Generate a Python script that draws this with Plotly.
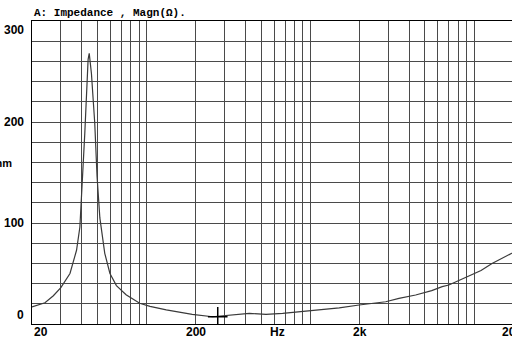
import math
import plotly.graph_objects as go

# ---- data ----
freq_hz = [20, 22, 24, 27, 30, 34.1, 37.4, 39.2, 40.1, 42.0, 44.0, 44.7, 46.1, 48.3, 49.9,
           51.9, 55.6, 59.8, 65.5, 75, 90.8, 105, 132, 190, 253, 300, 350, 424, 480, 536,
           677, 850, 1081, 1500, 1983, 2883, 3473, 4389, 5500, 6374, 7001, 8845, 11000,
           12840, 16620, 20000]
impedance_ohm = [17, 19, 21, 28, 36, 50, 73, 96, 123, 189, 262, 268, 248, 199, 146,
                 105, 70, 50, 38, 29, 20.5, 17.5, 13.9, 9.6, 7.2, 8.5, 9.5, 10.6, 10, 9.6,
                 10.6, 12, 13.9, 16, 18.8, 22, 25.4, 28.7, 33, 37, 38.6, 45.8, 53,
                 60, 69.3, 76]

cursor_freq = [272]
cursor_ohm = [7.2]

grid_freqs = [20, 30, 40, 50, 60, 70, 80, 90,
              100, 200, 300, 400, 500, 600, 700, 800, 900,
              1000, 2000, 3000, 4000, 5000, 6000, 7000, 8000, 9000,
              10000, 20000]
y_grid = list(range(0, 301, 20))

x_tick_vals = [20, 200, 2000, 20000]
x_tick_text = ["20", "200", "2k", "20k"]
x_tick_anchor = ["left", "center", "center", "right"]
y_tick_vals = [0, 100, 200, 300]
y_tick_text = ["0", "100", "200", "300"]

X_MIN, X_MAX_VISIBLE = 20, 17000
Y_MIN, Y_MAX = 0, 300

xr = [math.log10(X_MIN), math.log10(X_MAX_VISIBLE)]


def xpaper(f):
    return (math.log10(f) - xr[0]) / (xr[1] - xr[0])


GRID = "#4a4a4a"
LABEL_FONT = dict(family="Liberation Sans", size=12, color="black")

fig = go.Figure()
fig.add_trace(go.Scatter(x=freq_hz, y=impedance_ohm, mode="lines",
                         line=dict(color="#3a3a3a", width=1.2), hoverinfo="skip"))
fig.add_trace(go.Scatter(x=cursor_freq, y=cursor_ohm, mode="markers",
                         marker=dict(symbol="cross-thin", size=14,
                                     line=dict(color="black", width=1.5)),
                         hoverinfo="skip"))

annotations = []
for v, t, a in zip(x_tick_vals, x_tick_text, x_tick_anchor):
    annotations.append(dict(x=xpaper(v), xref="paper", y=0, yref="paper",
                            text=f"<b>{t}</b>", showarrow=False, xanchor=a,
                            yanchor="top", yshift=1, font=LABEL_FONT))
for v, t in zip(y_tick_vals, y_tick_text):
    ya = "middle"
    if v == Y_MAX:
        ya = "top"
    elif v == Y_MIN:
        ya = "bottom"
    annotations.append(dict(x=0, xref="paper", y=v, yref="y", text=f"<b>{t}</b>",
                            showarrow=False, xanchor="right", yanchor=ya,
                            xshift=-6, font=LABEL_FONT))
annotations.append(dict(x=(277 - 32) / 480, xref="paper", y=0, yref="paper",
                        text="<b>Hz</b>", showarrow=False, xanchor="center",
                        yanchor="top", yshift=1, font=LABEL_FONT))
annotations.append(dict(x=0, xref="paper", y=150, yref="y", text="<b>Ohm</b>",
                        showarrow=False, xanchor="right", yanchor="middle",
                        xshift=-18, yshift=10, font=dict(family="Liberation Sans", size=11, color="black")))
annotations.append(dict(x=0, xref="paper", y=1, yref="paper",
                        text="<b>A: Impedance , Magn(Ω).</b>", showarrow=False,
                        xanchor="left", yanchor="bottom", yshift=0,
                        font=dict(family="Liberation Mono", size=11, color="black")))

fig.update_layout(
    width=512, height=338,
    margin=dict(l=32, r=0, t=21, b=14),
    paper_bgcolor="white", plot_bgcolor="white",
    showlegend=False,
    annotations=annotations,
    xaxis=dict(type="log", range=xr, tickvals=grid_freqs, showticklabels=False,
               showgrid=True, gridcolor=GRID, gridwidth=1, ticks="",
               showline=True, linecolor="black", linewidth=1, mirror=True,
               zeroline=False, fixedrange=True),
    yaxis=dict(range=[Y_MIN, Y_MAX], tickvals=y_grid, showticklabels=False,
               showgrid=True, gridcolor=GRID, gridwidth=1, ticks="",
               showline=True, linecolor="black", linewidth=1, mirror=False,
               zeroline=False, fixedrange=True),
)

fig.write_html("out.html", config={"displayModeBar": False},
               post_script="document.body.style.margin='0';document.body.style.overflow='hidden';")
